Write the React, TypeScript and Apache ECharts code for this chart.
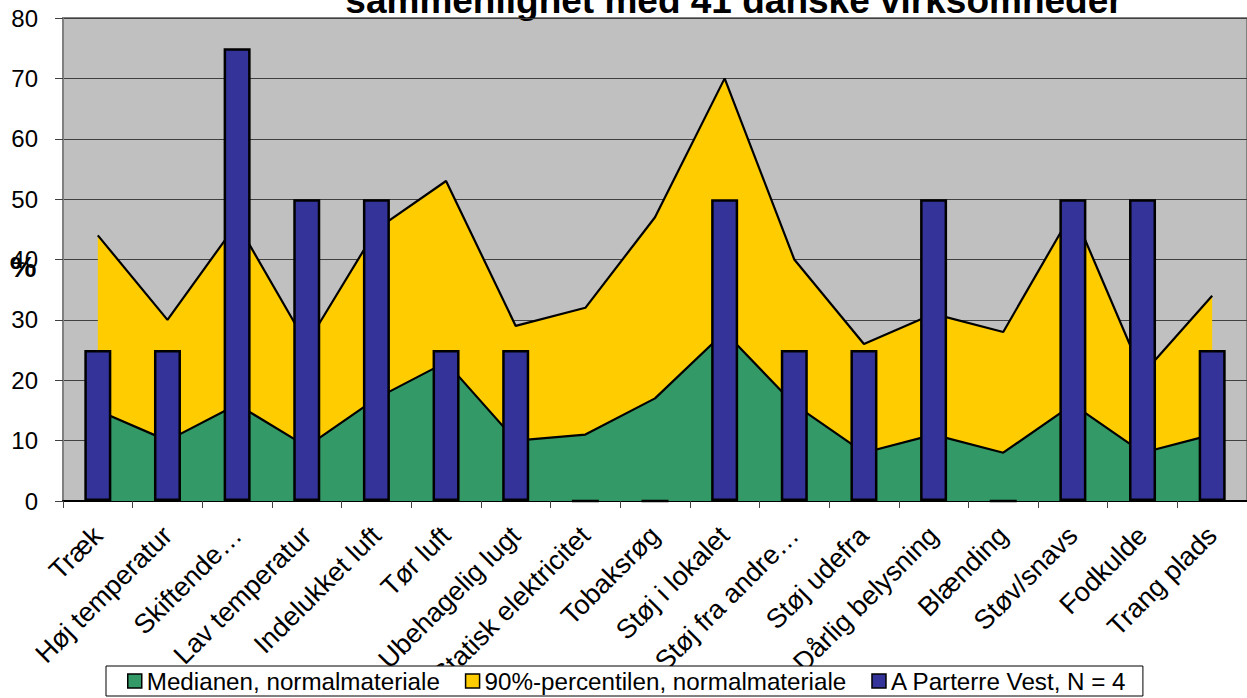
import React, { useEffect, useRef } from "react";
import * as echarts from "echarts";

const categories = [
  "Træk",
  "Høj temperatur",
  "Skiftende…",
  "Lav temperatur",
  "Indelukket luft",
  "Tør luft",
  "Ubehagelig lugt",
  "Statisk elektricitet",
  "Tobaksrøg",
  "Støj i lokalet",
  "Støj fra andre…",
  "Støj udefra",
  "Dårlig belysning",
  "Blænding",
  "Støv/snavs",
  "Fodkulde",
  "Trang plads",
];
const medianValues = [15, 10, 16, 9, 17, 23, 10, 11, 17, 28, 16, 8, 11, 8, 16, 8, 11];
const p90Values = [44, 30, 46, 26, 45, 53, 29, 32, 47, 70, 40, 26, 31, 28, 48, 21, 34];
const parterreValues = [25, 25, 75, 50, 50, 25, 25, 0, 0, 50, 25, 25, 50, 0, 50, 50, 25];

const seriesNames = [
  "Medianen, normalmateriale",
  "90%-percentilen, normalmateriale",
  "A Parterre Vest, N = 4",
];
const titleText = "sammenlignet med 41 danske virksomheder";
const yTicks = { min: 0, max: 80, interval: 10 };

const FONT = "'Liberation Sans', Arial, sans-serif";

export default function App() {
  const ref = useRef<HTMLDivElement>(null);
  useEffect(() => {
    if (!ref.current) return;
    const chart = echarts.init(ref.current, undefined, { renderer: "svg" });
    chart.setOption({
      animation: false,
      backgroundColor: "#ffffff",
      textStyle: { fontFamily: FONT },
      grid: {
        left: 63,
        top: 18,
        right: 0,
        bottom: 197,
        show: true,
        backgroundColor: "#C0C0C0",
        borderColor: "#808080",
        borderWidth: 2,
      },
      legend: {
        left: 106,
        top: 666,
        orient: "horizontal",
        backgroundColor: "#ffffff",
        borderColor: "#000000",
        borderWidth: 1,
        borderRadius: 0,
        padding: [3, 16, 3, 21],
        itemGap: 25,
        itemWidth: 14,
        itemHeight: 14,
        textStyle: { fontSize: 24.2, color: "#000", fontFamily: FONT },
        data: [
          { name: seriesNames[0], icon: "rect", itemStyle: { color: "#339966", borderColor: "#000", borderWidth: 1.5 } },
          { name: seriesNames[1], icon: "rect", itemStyle: { color: "#FFCC00", borderColor: "#000", borderWidth: 1.5 } },
          { name: seriesNames[2], icon: "rect", itemStyle: { color: "#333399", borderColor: "#000", borderWidth: 1.5 } },
        ],
      },
      xAxis: {
        type: "category",
        data: categories,
        boundaryGap: true,
        axisLine: { show: true, lineStyle: { color: "#000", width: 2 } },
        axisTick: { show: true, length: 7, lineStyle: { color: "#404040", width: 1 } },
        axisLabel: {
          interval: 0,
          rotate: 45,
          margin: 30,
          fontSize: 27,
          color: "#000",
          fontFamily: FONT,
        },
        splitLine: { show: false },
      },
      yAxis: {
        type: "value",
        min: yTicks.min,
        max: yTicks.max,
        interval: yTicks.interval,
        axisLine: { show: true, lineStyle: { color: "#808080", width: 2 } },
        axisTick: { show: true, length: 8, lineStyle: { color: "#404040", width: 1 } },
        axisLabel: { margin: 25, fontSize: 24, color: "#000", fontFamily: FONT },
        splitLine: { show: true, lineStyle: { color: "#404040", width: 1 } },
      },
      graphic: [
        {
          type: "text",
          x: 734,
          y: 0,
          style: {
            text: titleText,
            font: `bold 37px ${FONT}`,
            fill: "#000",
            align: "center",
            verticalAlign: "middle",
            textAlign: "center",
            textVerticalAlign: "middle",
          },
        },
        {
          type: "text",
          x: 23,
          y: 266,
          z: 10,
          style: {
            text: "%",
            font: `bold 30px ${FONT}`,
            fill: "#000",
            align: "center",
            verticalAlign: "middle",
            textAlign: "center",
            textVerticalAlign: "middle",
          },
        },
      ],
      series: [
        {
          name: seriesNames[1],
          type: "line",
          data: p90Values,
          symbol: "none",
          color: "#FFCC00",
          lineStyle: { color: "#000", width: 2.2 },
          areaStyle: { color: "#FFCC00", opacity: 1 },
          z: 2,
        },
        {
          name: seriesNames[0],
          type: "line",
          data: medianValues,
          symbol: "none",
          color: "#339966",
          lineStyle: { color: "#000", width: 2.2 },
          areaStyle: { color: "#339966", opacity: 1 },
          z: 3,
        },
        {
          name: seriesNames[2],
          type: "bar",
          data: parterreValues,
          barWidth: 27,
          color: "#333399",
          itemStyle: { color: "#333399", borderColor: "#000", borderWidth: 2.5 },
          z: 4,
        },
      ],
    });
    return () => chart.dispose();
  }, []);
  return (
    <div
      ref={ref}
      style={{ position: "absolute", left: 0, top: 0, width: 1247, height: 698 }}
    />
  );
}
